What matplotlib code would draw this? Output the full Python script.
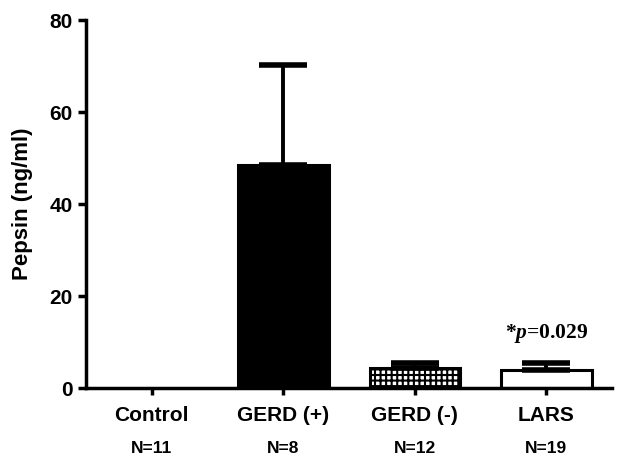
import matplotlib.pyplot as plt
import numpy as np

groups = ["Control", "GERD (+)", "GERD (-)", "LARS"]
counts = ["N=11", "N=8", "N=12", "N=19"]
means = [0.0, 48.5, 4.3, 3.9]
upper_err = [0.0, 21.7, 1.1, 1.5]
faces = ["white", "black", "white", "white"]
hatches = [None, None, "+++", None]
y_ticks = [0, 20, 40, 60, 80]

plt.rcParams["font.family"] = ["Liberation Sans", "DejaVu Sans"]
plt.rcParams["font.weight"] = "bold"
plt.rcParams["hatch.linewidth"] = 1.5
plt.rcParams["mathtext.fontset"] = "custom"
plt.rcParams["mathtext.rm"] = "Liberation Serif:bold"
plt.rcParams["mathtext.it"] = "Liberation Serif:italic:bold"

fig = plt.figure(figsize=(6.24, 4.67), dpi=100)
ax = fig.add_axes([0.138, 0.169, 0.843, 0.788])

x = np.arange(len(groups))
for i in x:
    if means[i] <= 0:
        continue
    ax.bar(x[i], means[i], width=0.69, color=faces[i], edgecolor="black",
           linewidth=2.2, hatch=hatches[i], zorder=2)
    ax.errorbar(x[i], means[i], yerr=[[0], [upper_err[i]]], fmt="none",
                ecolor="black", elinewidth=2.8, capsize=17, capthick=4, zorder=3)

ax.set_xlim(-0.5, 3.5)
ax.set_ylim(0, 80)
ax.set_yticks(y_ticks)
ax.set_xticks(x)
ax.set_xticklabels(groups, fontsize=15)
ax.tick_params(axis="y", labelsize=15, width=2.5, length=6)
ax.tick_params(axis="x", width=2.5, length=5, pad=8)
ax.set_ylabel("Pepsin (ng/ml)", fontsize=16, fontweight="bold", labelpad=12)

# sample sizes under the group names
for xi, n in zip(x, counts):
    ax.text(xi, -0.163, n, transform=ax.get_xaxis_transform(), ha="center",
            va="center", fontsize=12.5, fontweight="bold")

for side in ["top", "right"]:
    ax.spines[side].set_visible(False)
for side in ["left", "bottom"]:
    ax.spines[side].set_linewidth(2.5)

ax.text(3, 10.9, r"*$\mathit{p}$=0.029", ha="center", va="baseline",
        fontsize=15.5, fontweight="bold", family="Liberation Serif")

fig.savefig("out.png", dpi=100)
